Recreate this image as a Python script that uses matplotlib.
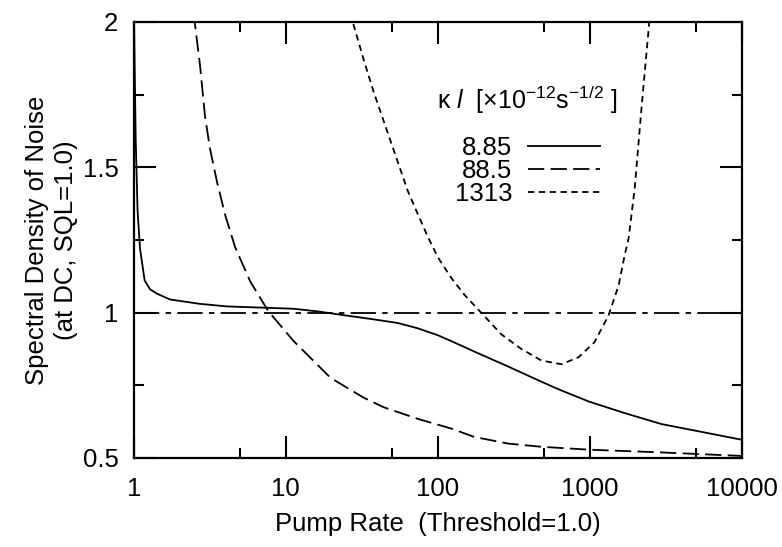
import matplotlib
matplotlib.use('Agg')
import matplotlib.pyplot as plt
from matplotlib.ticker import FixedLocator, NullFormatter

plt.rcParams['font.family'] = ['Liberation Sans', 'DejaVu Sans']
plt.rcParams['mathtext.fontset'] = 'custom'
plt.rcParams['mathtext.rm'] = 'Liberation Sans'
plt.rcParams['mathtext.it'] = 'Liberation Sans:italic'

# kappa*l = 8.85
pump_885 = [1.005, 1.03, 1.06, 1.1, 1.18, 1.28, 1.42, 1.73, 2.7, 4.1, 11.2, 16.1, 23.9, 36.1, 54.4,
            73.4, 99.8, 122, 173, 290, 479, 620, 979, 1689, 2960, 5450, 10000]
noise_885 = [2.0, 1.6, 1.35, 1.22, 1.11, 1.08, 1.065, 1.045, 1.03, 1.021, 1.013, 1.004, 0.991, 0.978, 0.964,
             0.946, 0.922, 0.902, 0.866, 0.814, 0.762, 0.736, 0.694, 0.654, 0.616, 0.589, 0.562]

# kappa*l = 88.5
pump_885b = [2.45, 2.53, 2.73, 2.94, 3.17, 3.53, 3.99, 4.64, 5.83, 7.66, 11.2, 19.7, 32.5, 44, 73.8,
             122, 173, 290, 479, 990, 2840, 9500, 10000]
noise_885b = [2.03, 1.99, 1.849, 1.677, 1.565, 1.449, 1.336, 1.225, 1.107, 1.005, 0.903, 0.775, 0.707, 0.674, 0.634,
              0.601, 0.572, 0.549, 0.538, 0.528, 0.519, 0.507, 0.506]

# kappa*l = 1313
pump_1313 = [27.5, 27.9, 32.5, 37.8, 48.9, 63.4, 75, 85.9, 100, 122, 150, 192, 261, 353, 478, 649, 839, 1071,
             1325, 1543, 1689, 1795, 1967, 2187, 2433, 2470]
noise_1313 = [2.03, 1.99, 1.87, 1.759, 1.589, 1.418, 1.33, 1.26, 1.19, 1.12, 1.06, 1.0, 0.925, 0.875, 0.835, 0.822,
              0.846, 0.898, 0.991, 1.094, 1.197, 1.256, 1.427, 1.712, 1.979, 2.03]

sql_x = [1, 10000]
sql_y = [1.0, 1.0]

legend_labels = ['8.85', '88.5', '1313']
x_ticks = [1, 10, 100, 1000, 10000]
x_minor = [5, 50, 500, 5000]
y_ticks = [0.5, 1.0, 1.5, 2.0]
y_minor = [0.75, 1.25, 1.75]

fig, ax = plt.subplots(figsize=(7.82, 5.47), dpi=100)
fig.subplots_adjust(left=0.171, right=0.949, top=0.960, bottom=0.163)

l1, = ax.plot(pump_885, noise_885, color='black', lw=1.3, ls='-')
l2, = ax.plot(pump_885b, noise_885b, color='black', lw=1.3, ls=(0, (9, 3.5)))
l3, = ax.plot(pump_1313, noise_1313, color='black', lw=1.3, ls=(0, (3.5, 2.5)))
ax.plot(sql_x, sql_y, color='black', lw=1.3, ls=(0, (14, 3.5, 3, 3.5)))

ax.set_xscale('log')
ax.set_xlim(1, 10000)
ax.set_ylim(0.5, 2.0)

ax.xaxis.set_major_locator(FixedLocator(x_ticks))
ax.xaxis.set_minor_locator(FixedLocator(x_minor))
ax.xaxis.set_minor_formatter(NullFormatter())
ax.set_xticklabels([str(v) for v in x_ticks])
ax.yaxis.set_major_locator(FixedLocator(y_ticks))
ax.yaxis.set_minor_locator(FixedLocator(y_minor))
ax.set_yticklabels(['0.5', '1', '1.5', '2'])

ax.tick_params(which='both', direction='in', top=True, right=True, width=1.5)
ax.tick_params(which='major', length=16, labelsize=18.5)
ax.tick_params(axis='x', which='major', pad=14)
ax.tick_params(axis='y', which='major', pad=11)
ax.tick_params(which='minor', length=7)
for s in ax.spines.values():
    s.set_linewidth(1.6)

ax.set_xlabel('Pump Rate  (Threshold=1.0)', fontsize=18.5, labelpad=8)
ax.set_ylabel('Spectral Density of Noise\n(at DC, SQL=1.0)', fontsize=18.5,
              labelpad=3, linespacing=1.3)

ax.text(0.796, 0.821, r'κ $\it{l}$  [×10$^{-12}$s$^{-1/2}$ ]', transform=ax.transAxes,
        ha='right', va='center', fontsize=18)
ax.legend([l1, l2, l3], legend_labels, loc='upper right', bbox_to_anchor=(0.766, 0.738),
          frameon=False, markerfirst=False, fontsize=18.5, handlelength=2.8,
          handletextpad=0.6, labelspacing=-0.05, borderpad=0, borderaxespad=0)

fig.savefig('out.png', dpi=100)
